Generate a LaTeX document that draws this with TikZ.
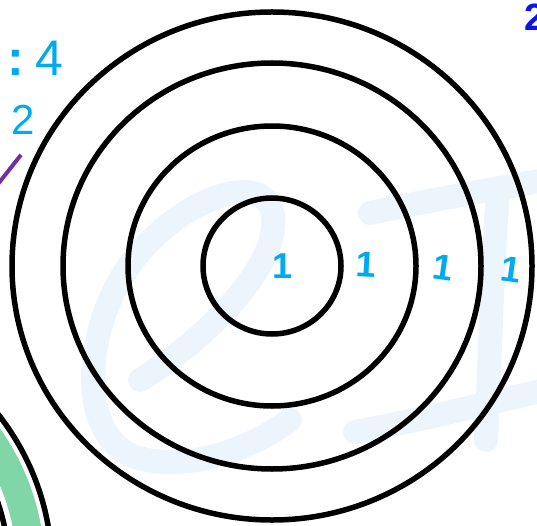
\documentclass[tikz,border=0pt]{standalone}
\usepackage{fontspec}
\setmainfont{Liberation Sans}
\definecolor{tgcyan}{RGB}{0,170,236}
\definecolor{tgblue}{RGB}{10,20,240}
\definecolor{tgpurple}{RGB}{112,48,160}
\definecolor{tggreen}{RGB}{128,214,166}
\definecolor{tgmark}{RGB}{236,245,252}

\begin{document}
\begin{tikzpicture}[x=1pt,y=-1pt,
        ring/.style={draw=black, line width=5.5pt},
        band/.style={draw=tggreen, line width=28pt},
        wmark/.style={draw=tgmark, line width=24pt, line cap=round, line join=round},
        tally/.style={text=tgcyan, inner sep=0pt, font=\bfseries\fontsize{36}{36}\selectfont},
        note/.style={text=tgcyan, inner sep=0pt, font=\fontsize{42}{42}\selectfont}
      ]
      \useasboundingbox (0,0) rectangle (537,526);
      \clip (0,0) rectangle (537,526);

      % faint logo behind the target
      \draw[wmark] (140,380) .. controls (220,330) and (290,250) .. (270,205)
        .. controls (250,170) and (160,210) .. (120,280)
        .. controls (85,340) and (80,430) .. (130,455)
        .. controls (180,475) and (250,450) .. (290,420);
      \draw[wmark] (370,213) .. controls (430,200) and (490,190) .. (545,180);
      \draw[wmark] (498,190) .. controls (492,270) and (490,360) .. (486,440);
      \draw[wmark] (355,432) .. controls (420,420) and (480,405) .. (545,390);

      % main target
      \coordinate (ctr) at (272,266);
      \draw[ring] (ctr) ellipse [x radius=69pt, y radius=68pt];
      \draw[ring] (ctr) ellipse [x radius=144pt, y radius=140pt];
      \draw[ring] (ctr) ellipse [x radius=209pt, y radius=203pt];
      \draw[ring] (ctr) ellipse [x radius=260pt, y radius=254pt];

      \node[tally] (t1) at (283,266) {1};
      \node[tally, rotate=-3] (t2) at (366,265) {1};
      \node[tally, rotate=-8] (t3) at (443,268) {1};
      \node[tally, rotate=-8] (t4) at (511,270) {1};

      % second target, lower left
      \coordinate (ctrb) at (-200,570);
      \draw[band] (ctrb) circle (231pt);
      \draw[ring] (ctrb) circle (252pt);
      \draw[ring] (ctrb) circle (209pt);

      % side labels
      \node[note, anchor=west, font=\fontsize{50}{50}\selectfont] (ratio) at (7,58) {\textbf{:}\hspace{12pt}4};
      \node[note] (two) at (23,120) {2};
      \coordinate (tick) at (-2,184);
      \draw[draw=tgpurple, line width=4pt] ([xshift=-2pt,yshift=-20pt]two.south) -- (tick);
      \node[text=tgblue, inner sep=0pt, anchor=north west,
        font=\bfseries\fontsize{38}{38}\selectfont] (corner) at (524,4) {2};
    \end{tikzpicture}
\end{document}
